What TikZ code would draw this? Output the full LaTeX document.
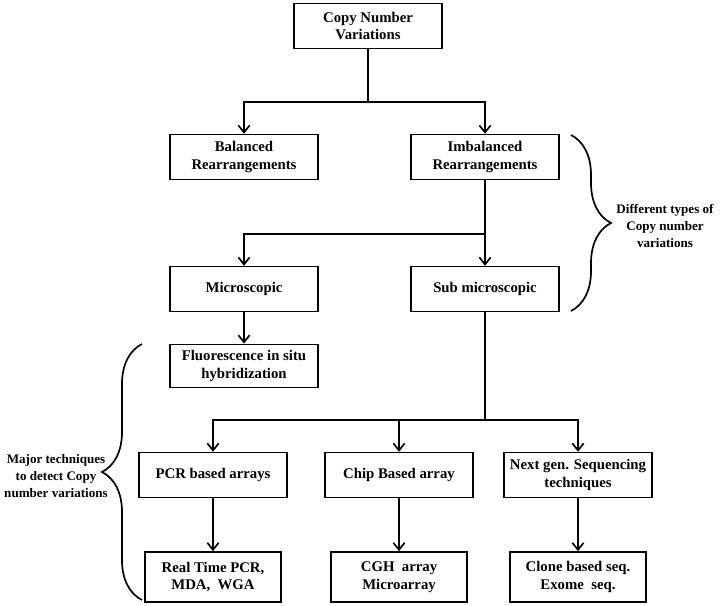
\documentclass[tikz,border=0pt]{standalone}
\usepackage{fontspec}
\setmainfont{Liberation Serif}
\usetikzlibrary{arrows.meta,decorations.pathreplacing}

\begin{document}
\begin{tikzpicture}
  [x=0.025cm,y=-0.025cm,line width=1.2pt,
   every node/.style={font=\bfseries\fontsize{10.5}{12.5}\selectfont,align=center},
   box/.style={draw,line width=1.2pt,minimum width=3.7cm,minimum height=1.12cm,inner sep=2pt},
   leaf/.style={box,minimum width=3.4cm,minimum height=1.25cm},
   note/.style={font=\bfseries\fontsize{9.3}{12}\selectfont,inner sep=0pt},
   arr/.style={-{Straight Barb[length=5pt,width=8pt]}},
   brace/.style={decorate,decoration={brace,amplitude=1cm}}]
    \useasboundingbox (0,0) rectangle (721,605);

    \node (cnv)   [box]  at (368,26)  {Copy Number\\Variations};
    \node (bal)   [box]  at (244,157) {Balanced\\Rearrangements};
    \node (imb)   [box]  at (485,157) {Imbalanced\\Rearrangements};
    \node (micro) [box]  at (244,289) {Microscopic};
    \node (sub)   [box]  at (485,289) {Sub microscopic};
    \node (fish)  [box,minimum height=1.08cm] at (244,366) {Fluorescence in situ\\hybridization};
    \node (pcr)   [box]  at (213,475) {PCR based arrays};
    \node (chip)  [box]  at (399,475) {Chip Based array};
    \node (ngs)   [box]  at (578,475) {Next gen. Sequencing\\techniques};
    \node (rt)    [leaf] at (213,577) {Real Time PCR,\\MDA,\ \ WGA};
    \node (cgh)   [leaf] at (399,577) {CGH\ \ array\\Microarray};
    \node (clone) [leaf] at (578,577) {Clone based seq.\\Exome\ \ seq.};

    \coordinate (j1) at (368,102);
    \coordinate (j2) at (485,234);
    \coordinate (j3) at (485,420);

    \draw (cnv) -- (j1);
    \draw (sub) -- (j3);
    \foreach \from/\to in {j1/bal,j1/imb,j2/micro,j3/pcr,j3/chip,j3/ngs}
      \draw[arr] (\from) -| (\to);
    \foreach \from/\to in {imb/sub,micro/fish,pcr/rt,chip/cgh,ngs/clone}
      \draw[arr] (\from) -- (\to);

    % braces
    \coordinate (rb1) at (571,135);
    \coordinate (rb2) at (571,311);
    \coordinate (lb1) at (142,344);
    \coordinate (lb2) at (142,600);
    \draw[brace] (rb1) -- (rb2);
    \draw[brace] (lb2) -- (lb1);

    \node (types) [note] at (665,226) {Different types of\\Copy number\\variations};
    \node (major) [note] at (56,476)  {Major techniques\\to detect Copy\\number variations};
\end{tikzpicture}
\end{document}
